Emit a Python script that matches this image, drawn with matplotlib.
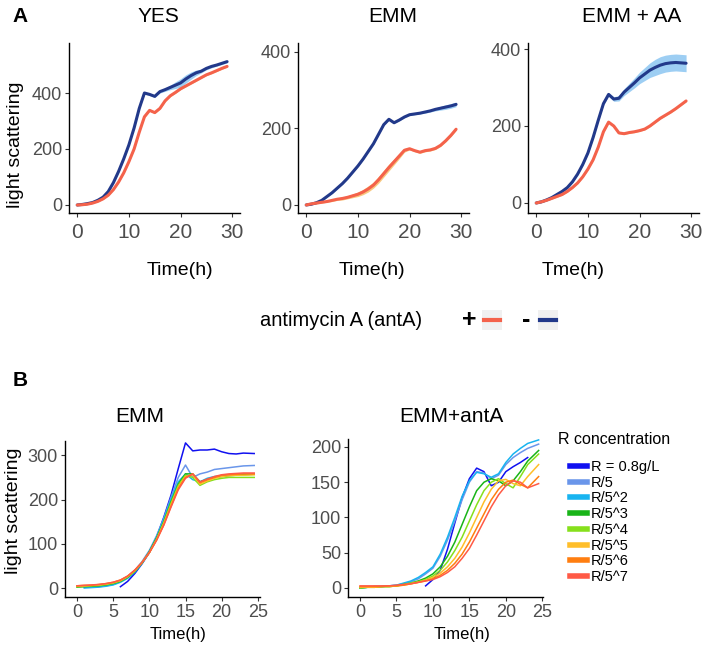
import numpy as np
import matplotlib
matplotlib.use("Agg")
import matplotlib.pyplot as plt
from matplotlib.patches import Rectangle
from matplotlib.lines import Line2D

plt.rcParams['font.family'] = ['Liberation Sans', 'DejaVu Sans']

nan = np.nan
# ---------------- Panel A data ----------------
hours_A = list(range(30))
yes_minus = [0,2,5,9,17,28,48,80,120,165,215,275,345,400,395,388,405,412,420,428,436,450,462,472,478,488,495,500,506,512]
yes_plus  = [0,1,3,7,13,22,35,55,82,115,155,200,260,315,338,330,345,372,390,402,415,425,435,445,455,465,472,480,488,495]
yes_minus_sd = [1,1,1,1,2,2,2,3,3,3,3,3,4,4,4,4,5,6,8,12,15,15,13,10,6,5,5,4,4,4]
yes_plus_sd  = [1,1,1,1,1,2,2,2,2,3,3,3,3,3,3,3,3,3,3,3,3,3,3,3,3,3,3,3,3,3]

emm_minus = [0,2,6,12,22,32,44,56,70,86,102,120,140,160,185,210,224,215,222,230,236,238,240,243,246,250,253,256,259,263]
emm_plus  = [0,3,5,7,9,12,15,17,20,24,28,34,42,52,66,82,98,113,128,143,147,142,138,142,144,148,156,168,182,198]
emm_minus_sd = [1,1,1,1,1,2,2,2,2,2,2,2,2,2,2,2,2,2,2,2,2,2,2,3,3,4,5,6,6,6]
emm_plus_sd  = [1,1,2,2,2,3,3,4,4,5,6,7,8,8,9,9,9,8,7,5,3,3,3,3,3,3,3,3,3,3]

emmaa_minus = [0,3,8,14,22,30,40,55,75,100,130,170,215,258,282,270,272,288,300,312,325,335,345,352,358,362,364,365,364,363]
emmaa_plus  = [0,3,7,12,17,22,30,40,52,68,88,112,145,185,210,200,182,180,183,185,188,192,200,210,220,228,236,245,255,265]
emmaa_minus_sd = [1,2,3,4,5,5,4,3,3,3,3,3,3,4,5,6,7,9,11,13,15,17,19,21,22,22,22,22,22,22]
emmaa_plus_sd  = [1,1,1,2,2,2,2,2,2,2,2,2,2,2,2,2,2,2,2,2,2,2,2,2,2,2,2,2,2,2]

col_plus = "#F4624B"
col_minus = "#22398A"
band_minus = "#8CC6F2"
band_plus = "#F7C06B"

# ---------------- Panel B data ----------------
hours_B = list(range(24)) + [24.5]
conc_labels = ["R = 0.8g/L", "R/5", "R/5^2", "R/5^3", "R/5^4", "R/5^5", "R/5^6", "R/5^7"]
conc_colors = ["#1010F0", "#6A96EA", "#18B4F0", "#18B418", "#86E01C", "#FFBE2A", "#FF7E10", "#FF5A46"]

emm_B = [
    [nan,nan,nan,nan,nan,nan,3,15,33,55,80,115,160,210,270,328,310,312,312,314,308,304,303,305,304],
    [nan,2,2,3,5,8,15,25,40,60,85,118,158,205,250,278,250,258,262,268,270,272,274,276,277],
    [nan,0,1,2,4,7,13,22,36,56,82,115,155,200,240,258,245,240,248,252,254,255,256,257,258],
    [2,3,4,5,7,10,15,24,38,57,82,113,150,195,235,258,258,240,245,250,252,254,255,256,257],
    [3,4,5,6,8,11,16,25,38,57,80,110,148,192,232,255,250,232,240,245,248,250,250,250,250],
    [4,5,6,7,9,12,17,26,40,58,80,110,146,188,228,252,256,235,242,248,252,254,255,255,256],
    [5,6,6,8,10,13,18,27,40,58,80,108,143,185,225,250,258,238,245,250,255,256,257,258,258],
    [5,6,7,8,10,13,18,27,41,58,80,108,142,183,222,248,258,240,246,252,256,258,259,260,260],
]
antA_B = [
    [nan,nan,nan,nan,nan,nan,nan,nan,nan,3,12,25,55,92,128,155,170,165,145,150,165,172,178,185,nan],
    [0,1,2,2,3,4,6,9,13,20,28,45,68,95,125,150,165,163,155,160,175,185,192,198,204],
    [0,1,2,2,3,4,7,10,15,22,30,48,72,100,130,152,164,162,157,162,178,190,198,205,210],
    [0,1,1,2,2,3,5,7,10,14,20,30,45,65,90,115,138,150,155,152,145,152,165,180,195],
    [0,1,1,2,2,3,5,7,9,12,17,25,37,53,72,95,118,138,150,155,148,142,158,175,190],
    [1,1,1,2,2,3,4,6,8,11,15,21,30,42,58,78,100,122,140,152,154,148,145,158,175],
    [2,2,2,2,3,3,4,6,8,10,13,18,25,35,48,65,85,105,125,140,150,153,147,142,158],
    [3,3,3,3,3,4,5,6,8,10,12,16,22,30,42,56,75,95,115,132,145,152,150,142,148],
]

W, H = 709, 648
fig = plt.figure(figsize=(W/100, H/100), dpi=100)

def px_axes(l, r, t, b):
    return fig.add_axes([l/W, 1-b/H, (r-l)/W, (b-t)/H])

def style(ax, fs):
    for s in ['top', 'right']:
        ax.spines[s].set_visible(False)
    for s in ['left', 'bottom']:
        ax.spines[s].set_linewidth(1.0)
        ax.spines[s].set_color('black')
    ax.tick_params(axis='both', length=3, width=0.8, color='#333333',
                   labelcolor='#4D4D4D', labelsize=fs, pad=2)

def ftext(x, y, s, **kw):
    fig.text(x/W, 1-y/H, s, **kw)

tA = np.array(hours_A)
panelsA = [
    (69, 240, yes_minus, yes_minus_sd, yes_plus, yes_plus_sd, (-28.6, 578.6)),
    (298, 469, emm_minus, emm_minus_sd, emm_plus, emm_plus_sd, (-21, 423.5)),
    (528, 699, emmaa_minus, emmaa_minus_sd, emmaa_plus, emmaa_plus_sd, (-26, 415.6)),
]
for (l, r, mn, msd, pl, psd, yl) in panelsA:
    ax = px_axes(l, r, 43, 213)
    mn = np.array(mn, float); msd = np.array(msd, float)
    pl = np.array(pl, float); psd = np.array(psd, float)
    ax.fill_between(tA, mn-msd, mn+msd, color=band_minus, alpha=0.85, lw=0)
    ax.fill_between(tA, pl-psd, pl+psd, color=band_plus, alpha=0.85, lw=0)
    ax.plot(tA, mn, color=col_minus, lw=2.2, solid_capstyle='round')
    ax.plot(tA, pl, color=col_plus, lw=2.2, solid_capstyle='round')
    ax.set_xlim(-1.6, 31.5)
    ax.set_ylim(*yl)
    ax.set_xticks([0, 10, 20, 30])
    ax.set_yticks([0, 200, 400])
    style(ax, 13)
    ax.tick_params(axis='x', labelsize=15, pad=4)

ftext(20, 17, "A", fontsize=15, fontweight='bold', ha='center', va='center')
ftext(158, 16, "YES", fontsize=15, ha='center', va='center')
ftext(393, 17, "EMM", fontsize=15, ha='center', va='center')
ftext(632, 16, "EMM + AA", fontsize=15, ha='center', va='center')
ftext(16, 145, "light scattering", fontsize=14, rotation=90, ha='center', va='center')
ftext(180, 270, "Time(h)", fontsize=14, ha='center', va='center')
ftext(372, 270, "Time(h)", fontsize=14, ha='center', va='center')
ftext(573, 270, "Tme(h)", fontsize=14, ha='center', va='center')

# legend for panel A
ftext(260, 320, "antimycin A (antA)", fontsize=14.5, ha='left', va='center')
ftext(469, 320, "+", fontsize=18, fontweight='bold', ha='center', va='center')
ftext(526, 320, "-", fontsize=18, fontweight='bold', ha='center', va='center')
for (x0, c) in [(482, col_plus), (538, col_minus)]:
    fig.patches.append(Rectangle((x0/W, 1-330/H), 20/W, 20/H, transform=fig.transFigure,
                                 facecolor='#F0F0F0', edgecolor='none'))
    fig.lines.append(Line2D([(x0+2)/W, (x0+18)/W], [1-320/H, 1-320/H], transform=fig.transFigure,
                            color=c, lw=3))

# ---------------- Panel B ----------------
tB = np.array(hours_B)
axB1 = px_axes(65, 260, 440.7, 597)
for vals, c, lab in zip(emm_B, conc_colors, conc_labels):
    axB1.plot(tB, vals, color=c, lw=1.1, label=lab)
axB1.set_xlim(-1.66, 25.3)
axB1.set_ylim(-20.3, 333)
axB1.set_xticks([0, 5, 10, 15, 20, 25])
axB1.set_yticks([0, 100, 200, 300])
style(axB1, 13)
axB1.tick_params(axis='x', labelsize=13)

axB2 = px_axes(348, 543, 438.5, 597)
for vals, c, lab in zip(antA_B, conc_colors, conc_labels):
    axB2.plot(tB, vals, color=c, lw=1.1, label=lab)
axB2.set_xlim(-1.65, 25.1)
axB2.set_ylim(-12.8, 212)
axB2.set_xticks([0, 5, 10, 15, 20, 25])
axB2.set_yticks([0, 50, 100, 150, 200])
style(axB2, 13)
axB2.tick_params(axis='x', labelsize=13)

ftext(20, 380, "B", fontsize=15, fontweight='bold', ha='center', va='center')
ftext(140, 417, "EMM", fontsize=15, ha='center', va='center')
ftext(451, 417, "EMM+antA", fontsize=15, ha='center', va='center')
ftext(14, 511, "light scattering", fontsize=14, rotation=90, ha='center', va='center')
ftext(178, 635, "Time(h)", fontsize=12, ha='center', va='center')
ftext(462, 635, "Time(h)", fontsize=12, ha='center', va='center')

ftext(558, 439, "R concentration", fontsize=11.5, ha='left', va='center')
leg = axB2.legend(loc='upper left', bbox_to_anchor=(567/W, 1-457/H), bbox_transform=fig.transFigure,
                  frameon=False, fontsize=10.5, borderaxespad=0,
                  handlelength=1.15, handletextpad=0.3, labelspacing=0.12, borderpad=0.2)
for h in leg.legend_handles:
    h.set_linewidth(4)

fig.savefig("out.png", dpi=100)
